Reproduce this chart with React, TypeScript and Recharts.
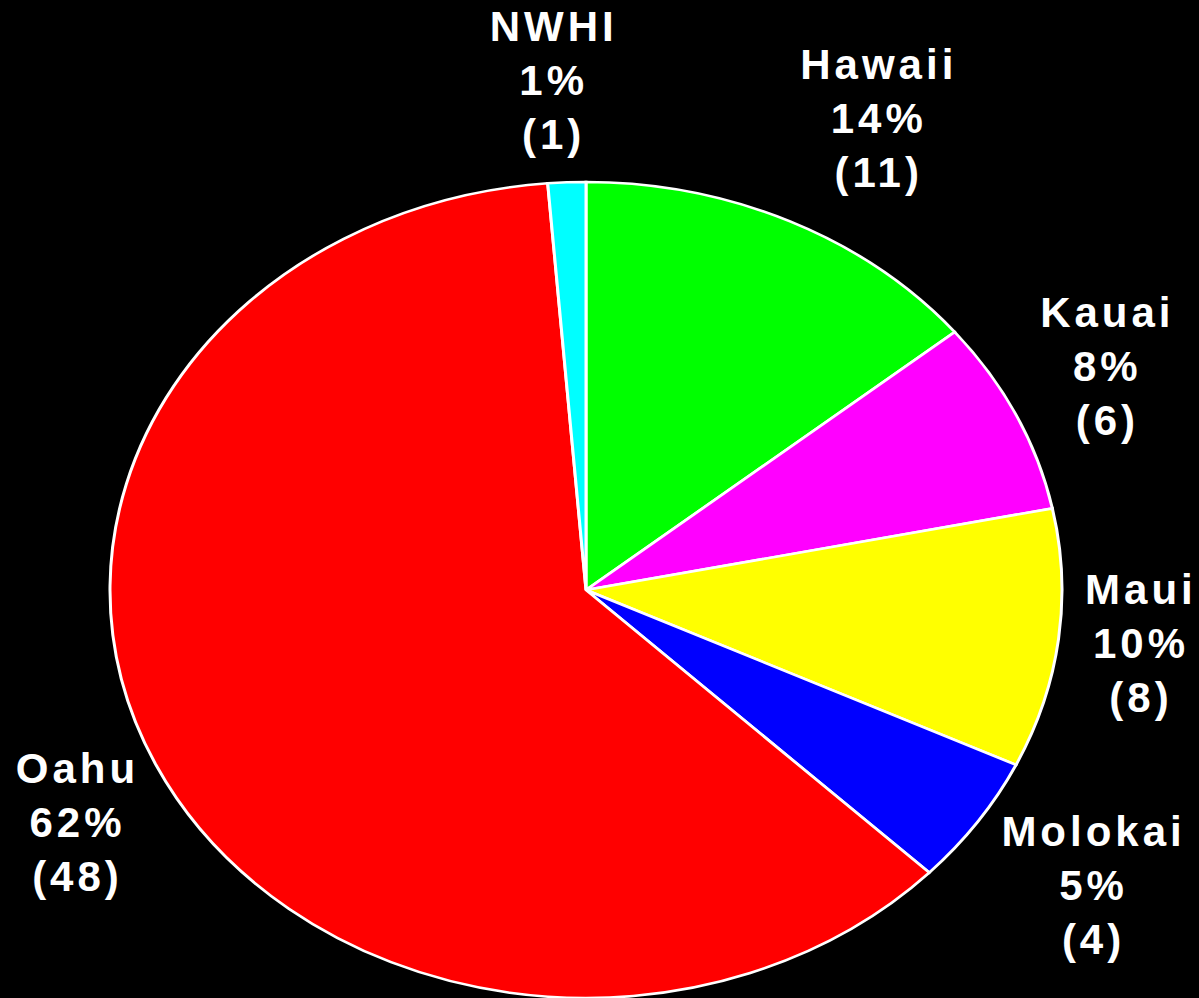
import { Pie, PieChart, Sector, Cell } from "recharts";

const islands = ["Hawaii", "Kauai", "Maui", "Molokai", "Oahu", "NWHI"];
const counts = [11, 6, 8, 4, 48, 1];
const colors = ["#00ff00", "#ff00ff", "#ffff00", "#0000ff", "#ff0000", "#00ffff"];

const data = islands.map((name, i) => ({ name, value: counts[i] }));

const W = 1199;
const H = 998;
const CX = 586;
const CY = 590;
const RX = 476;
const RY = 408;
const K = RY / RX;
const RAD = Math.PI / 180;

// Excel put a couple of labels a little off the plain radial spot
const nudge: Record<string, [number, number]> = {
  Hawaii: [45, -5],
  Kauai: [10, 0],
  Maui: [5, -5],
  Molokai: [22, 8],
  NWHI: [-10, 7],
  Oahu: [-8, 16],
};

const EllipseSector = (props: any) => {
  const { cy } = props;
  return (
    <g transform={`translate(0 ${cy}) scale(1 ${K}) translate(0 ${-cy})`}>
      <Sector {...props} />
    </g>
  );
};

const renderLabel = (props: any) => {
  const { cx, cy, midAngle, outerRadius, percent, name, value } = props;
  const ux = Math.cos(-midAngle * RAD);
  const uy = Math.sin(-midAngle * RAD);
  const gap = 30;
  const w = name.length * 24;
  const h = 150;
  const [nx, ny] = nudge[name] || [0, 0];
  const x = cx + (outerRadius + gap) * ux + (ux * w) / 2 + nx;
  const y = cy + (outerRadius * K + gap) * uy + (uy * h) / 2 + ny;
  const top = y - 43;
  return (
    <text
      x={x}
      y={top}
      fill="#ffffff"
      textAnchor="middle"
      fontFamily="'Liberation Sans', Arial, sans-serif"
      fontWeight="bold"
      fontSize={42}
      letterSpacing={4}
    >
      <tspan x={x} y={top}>{name}</tspan>
      <tspan x={x} y={top + 54}>{`${Math.round(percent * 100)}%`}</tspan>
      <tspan x={x} y={top + 108}>{`(${value})`}</tspan>
    </text>
  );
};

export default function App() {
  return (
    <div style={{ position: "absolute", left: 0, top: 0, width: W, height: H, background: "#000000", overflow: "hidden" }}>
      <PieChart width={W} height={H} margin={{ top: 0, right: 0, bottom: 0, left: 0 }}>
        <Pie
          data={data}
          dataKey="value"
          nameKey="name"
          cx={CX}
          cy={CY}
          outerRadius={RX}
          startAngle={90}
          endAngle={-270}
          stroke="#ffffff"
          strokeWidth={3}
          shape={EllipseSector}
          label={renderLabel}
          labelLine={false}
          isAnimationActive={false}
        >
          {data.map((d, i) => (
            <Cell key={d.name} fill={colors[i]} />
          ))}
        </Pie>
      </PieChart>
    </div>
  );
}
